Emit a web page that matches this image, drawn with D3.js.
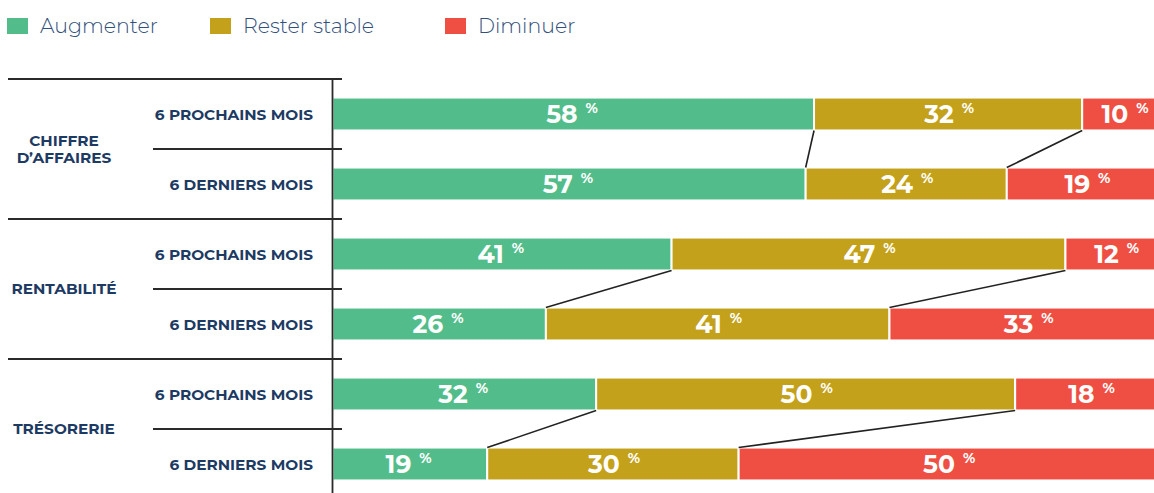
<!DOCTYPE html>
<html><head><meta charset="utf-8">
<script src="https://cdn.jsdelivr.net/npm/d3@7"></script>
<style>
html,body{margin:0;padding:0;background:#fff;}
svg{display:block;}
text{font-family:"Montserrat","Open Sans","Noto Sans",sans-serif;}
</style></head>
<body>
<div id="chart"></div>
<script>
const seriesNames = ["Augmenter", "Rester stable", "Diminuer"];
const colors = ["#52bd8a", "#c4a11a", "#ef4f43"];
const groups = ["CHIFFRE\nD’AFFAIRES", "RENTABILITÉ", "TRÉSORERIE"];
const periods = ["6 PROCHAINS MOIS", "6 DERNIERS MOIS"];
const augmenter = [58, 57, 41, 26, 32, 19];
const resterStable = [32, 24, 47, 41, 50, 30];
const diminuer = [10, 19, 12, 33, 18, 50];

const W = 1154, H = 493;
const svg = d3.select("#chart").append("svg").attr("width", W).attr("height", H);

const rows = d3.range(6);
const x = d3.scaleLinear().domain([0, 100]).range([328, 1166]);
const y = d3.scaleBand().domain(rows).range([79, 499]).paddingInner(0.53).paddingOuter(0.265);
const navy = "#1d3a63";

svg.append("clipPath").attr("id", "clip").append("rect")
  .attr("x", 333.5).attr("y", 0).attr("width", W).attr("height", H);

const table = rows.map(i => ({row: i, v: [augmenter[i], resterStable[i], diminuer[i]]}));
const segs = [];
table.forEach(d => {
  let c = 0;
  d.v.forEach((v, k) => { segs.push({row: d.row, k, x0: c, x1: c + v, v}); c += v; });
});

const gBars = svg.append("g").attr("clip-path", "url(#clip)");
gBars.selectAll("rect").data(segs).join("rect")
  .attr("x", d => x(d.x0))
  .attr("width", d => x(d.x1) - x(d.x0))
  .attr("y", d => y(d.row))
  .attr("height", y.bandwidth())
  .attr("fill", d => colors[d.k])
  .attr("stroke", "#fff").attr("stroke-width", 2);

const lab = svg.selectAll("text.val").data(segs).join("text")
  .attr("class", "val")
  .attr("x", d => (x(d.x0) + Math.min(x(d.x1), W + 12)) / 2 + 1)
  .attr("y", d => y(d.row) + y.bandwidth() / 2 + 9)
  .attr("text-anchor", "middle")
  .attr("fill", "#fff").attr("font-weight", 700);
lab.append("tspan").attr("font-size", 25).text(d => d.v);
lab.append("tspan").attr("font-size", 14).attr("dx", 8).attr("dy", -10).text("%");

const conn = svg.append("g");
[0, 1, 2].forEach(gi => {
  const top = gi * 2, bot = gi * 2 + 1;
  [1, 2].forEach(k => {
    const ct = d3.sum(table[top].v.slice(0, k));
    const cb = d3.sum(table[bot].v.slice(0, k));
    conn.append("line")
      .attr("x1", x(ct)).attr("y1", y(top) + y.bandwidth())
      .attr("x2", x(cb)).attr("y2", y(bot))
      .attr("stroke", "#222").attr("stroke-width", 1.6);
  });
});

const step = y.step();
const lines = svg.append("g").attr("stroke", "#2a2a2a").attr("stroke-width", 1.8);
lines.append("line").attr("x1", 332.5).attr("x2", 332.5).attr("y1", 79).attr("y2", H);
[0, 1, 2].forEach(gi => {
  const yy = 79 + gi * 2 * step;
  lines.append("line").attr("x1", 8).attr("x2", 342).attr("y1", yy).attr("y2", yy);
  const ys = yy + step;
  lines.append("line").attr("x1", 153).attr("x2", 342).attr("y1", ys).attr("y2", ys);
});

svg.selectAll("text.per").data(rows).join("text")
  .attr("class", "per")
  .attr("x", 313).attr("y", d => y(d) + y.bandwidth() / 2 + 5.5)
  .attr("text-anchor", "end").attr("fill", navy)
  .attr("font-weight", 700).attr("font-size", 15.3)
  .text(d => periods[d % 2]);

groups.forEach((g, gi) => {
  const cy = 79 + (gi * 2 + 1) * step;
  const parts = g.split("\n");
  const t = svg.append("text").attr("x", 64).attr("text-anchor", "middle")
    .attr("fill", navy).attr("font-weight", 700).attr("font-size", 15.3);
  parts.forEach((p, i) => {
    t.append("tspan").attr("x", 64)
      .attr("y", cy + 5 + (i - (parts.length - 1) / 2) * 17)
      .text(p);
  });
});

const legX = [7, 210, 445];
const leg = svg.selectAll("g.leg").data(seriesNames).join("g").attr("class", "leg")
  .attr("transform", (d, i) => `translate(${legX[i]},18)`);
leg.append("rect").attr("width", 21).attr("height", 16).attr("fill", (d, i) => colors[i]);
leg.append("text").attr("x", 33).attr("y", 15).attr("fill", "#33507a")
  .attr("font-size", 20.5).attr("font-weight", 300).text(d => d);
</script>
</body></html>
